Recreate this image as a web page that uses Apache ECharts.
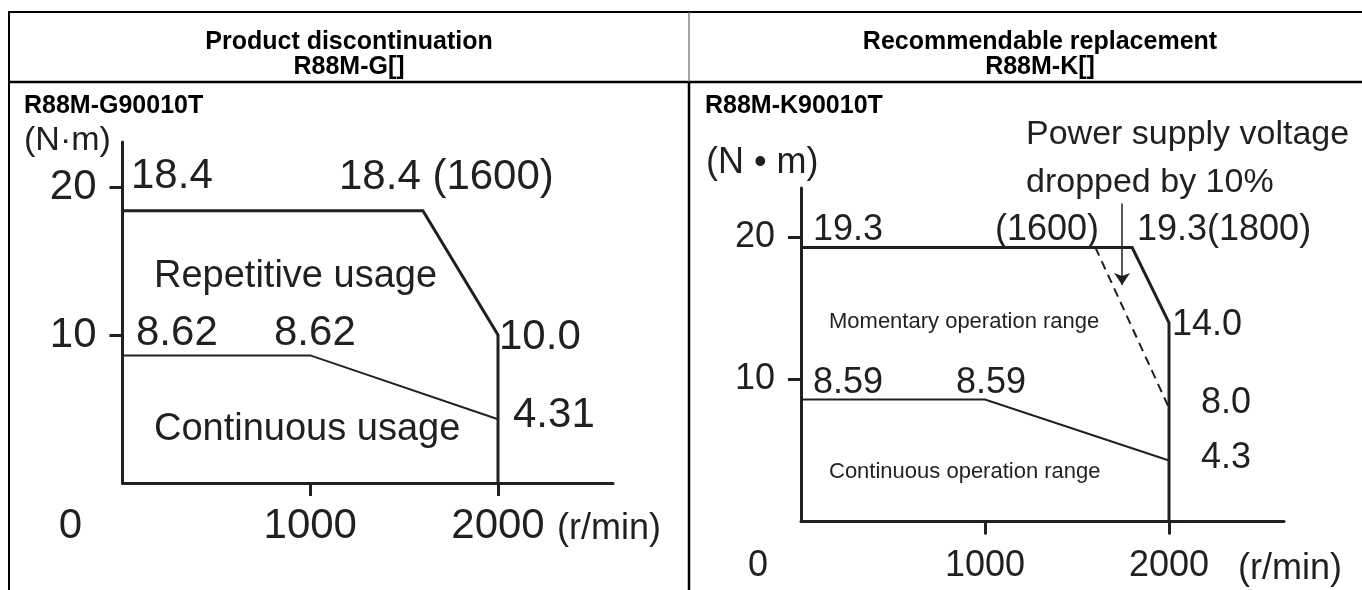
<!DOCTYPE html>
<html>
<head>
<meta charset="utf-8">
<script src="https://cdn.jsdelivr.net/npm/echarts@6/dist/echarts.min.js"></script>
<style>
html,body{margin:0;padding:0;background:#fff;}
#main{width:1362px;height:590px;}
</style>
</head>
<body>
<div id="main"></div>
<script>
// ---------- data ----------
const xTickValues = [1000, 2000];
const xLabelValues = [0, 1000, 2000];
const yTickValues = [10, 20];

// left chart: R88M-G90010T  (speed r/min, torque N·m)
const gRepetitive = [[0, 18.4], [1600, 18.4], [2000, 10.0], [2000, 0]];
const gContinuous = [[0, 8.62], [1000, 8.62], [2000, 4.31]];

// right chart: R88M-K90010T
const kMomentary = [[0, 19.3], [1800, 19.3], [2000, 14.0], [2000, 0]];
const kVoltageDrop = [[1600, 19.3], [2000, 8.0]];
const kContinuous = [[0, 8.59], [1000, 8.59], [2000, 4.3]];
const kArrow = [[1745, 22.4], [1745, 16.65]];

// texts
const headerLeft = ['Product discontinuation', 'R88M-G[]'];
const headerRight = ['Recommendable replacement', 'R88M-K[]'];
const modelLeft = 'R88M-G90010T';
const modelRight = 'R88M-K90010T';

// ---------- styling / layout ----------
const INK = '#231f20';
const FF = '"Liberation Sans", Arial, Helvetica, sans-serif';
const chart = echarts.init(document.getElementById('main'), null, {renderer: 'canvas'});

function axisPair(gridIndex, xMax, yMax, fs, labelMargin, zeroShift) {
  return {
    x: {
      type: 'value', gridIndex: gridIndex, min: 0, max: xMax,
      axisLine: {show: true, lineStyle: {color: INK, width: 3}},
      axisTick: {show: true, customValues: xTickValues, length: 13, lineStyle: {color: INK, width: 3}},
      axisLabel: {
        show: true, customValues: xLabelValues, margin: labelMargin,
        color: INK, fontFamily: FF, fontSize: fs, lineHeight: fs,
        formatter: function (v) { return v === 0 ? '{z|0}' : String(v); },
        rich: {z: {fontFamily: FF, fontSize: fs, lineHeight: fs, color: INK, padding: [0, zeroShift * 2, 0, 0]}}
      },
      splitLine: {show: false}
    },
    y: {
      type: 'value', gridIndex: gridIndex, min: 0, max: yMax,
      axisLine: {show: true, lineStyle: {color: INK, width: 3}},
      axisTick: {show: true, customValues: yTickValues, length: 13, lineStyle: {color: INK, width: 3}},
      axisLabel: {show: true, customValues: yTickValues, margin: 26, color: INK, fontFamily: FF, fontSize: fs},
      splitLine: {show: false}
    }
  };
}

const A = axisPair(0, 2612.5, 23.04, 42, 22, 52);
const B = axisPair(1, 2625, 23.49, 36, 27, 43);

function lineSeries(idx, data, width, dashed) {
  return {
    type: 'line', xAxisIndex: idx, yAxisIndex: idx, data: data,
    showSymbol: false, symbol: 'none', silent: true,
    lineStyle: {color: INK, width: width, type: dashed ? [9, 6] : 'solid', cap: 'butt', join: 'miter'},
    z: 3
  };
}

function txt(text, x, y, size, opts) {
  opts = opts || {};
  return {
    type: 'text', x: x, y: y, silent: true, z: 10,
    style: {
      text: text, fill: opts.fill || INK,
      font: (opts.bold ? 'bold ' : '') + size + 'px ' + FF,
      align: opts.align || 'left', verticalAlign: 'middle'
    }
  };
}
function hline(x1, x2, y, w, c) {
  return {type: 'line', silent: true, z: 20, shape: {x1: x1, y1: y, x2: x2, y2: y}, style: {stroke: c || '#000', lineWidth: w}};
}
function vline(x, y1, y2, w, c) {
  return {type: 'line', silent: true, z: 20, shape: {x1: x, y1: y1, x2: x, y2: y2}, style: {stroke: c || '#000', lineWidth: w}};
}

const graphics = [
  // table
  hline(8, 1362, 12, 2),
  hline(8, 1362, 82, 2.5),
  vline(9, 11, 590, 2),
  vline(689, 12, 82, 1.2, '#666'),
  vline(689, 82, 590, 2.5),
  // headers
  txt(headerLeft[0], 349, 42, 25, {bold: true, align: 'center', fill: '#000'}),
  txt(headerLeft[1], 349, 67, 25, {bold: true, align: 'center', fill: '#000'}),
  txt(headerRight[0], 1040, 42, 25, {bold: true, align: 'center', fill: '#000'}),
  txt(headerRight[1], 1040, 67, 25, {bold: true, align: 'center', fill: '#000'}),
  txt(modelLeft, 24, 106, 25, {bold: true, fill: '#000'}),
  txt(modelRight, 705, 106, 25, {bold: true, fill: '#000'}),
  // left chart annotations
  txt('(N\u00B7m)', 24, 141, 34),
  txt('18.4', 131, 176, 42),
  txt('18.4 (1600)', 339, 177, 42),
  txt('Repetitive usage', 154, 277, 38),
  txt('8.62', 136, 333, 42),
  txt('8.62', 274, 333, 42),
  txt('10.0', 499, 337, 42),
  txt('4.31', 513, 415, 42),
  txt('Continuous usage', 154, 430, 38),
  txt('(r/min)', 557, 529, 36),
  // right chart annotations
  txt('(N \u2022 m)', 706, 163, 36),
  txt('Power supply voltage', 1026, 135, 34),
  txt('dropped by 10%', 1026, 183, 34),
  txt('19.3', 813, 230, 36),
  txt('(1600)', 995, 230, 36),
  txt('19.3(1800)', 1137, 230, 36),
  txt('Momentary operation range', 829, 322, 22),
  txt('14.0', 1172, 325, 36),
  txt('8.59', 813, 383, 36),
  txt('8.59', 956, 383, 36),
  txt('8.0', 1201, 403, 36),
  txt('4.3', 1201, 458, 36),
  txt('Continuous operation range', 829, 472, 22),
  txt('(r/min)', 1238, 569, 36)
];

const option = {
  animation: false,
  backgroundColor: '#ffffff',
  grid: [
    {left: 122.5, top: 142, width: 490.5, height: 341, containLabel: false},
    {left: 801, top: 188, width: 483, height: 333.5, containLabel: false}
  ],
  xAxis: [A.x, B.x],
  yAxis: [A.y, B.y],
  series: [
    lineSeries(0, gRepetitive, 3, false),
    lineSeries(0, gContinuous, 2, false),
    lineSeries(1, kMomentary, 3, false),
    lineSeries(1, kVoltageDrop, 2, true),
    lineSeries(1, kContinuous, 2, false),
    {
      type: 'lines', coordinateSystem: 'cartesian2d', xAxisIndex: 1, yAxisIndex: 1,
      silent: true, symbol: ['none', 'arrow'], symbolSize: [0, 12],
      lineStyle: {color: INK, width: 1.5, opacity: 1, curveness: 0},
      data: [{coords: kArrow}], z: 4
    }
  ],
  graphic: graphics
};
chart.setOption(option);
</script>
</body>
</html>
